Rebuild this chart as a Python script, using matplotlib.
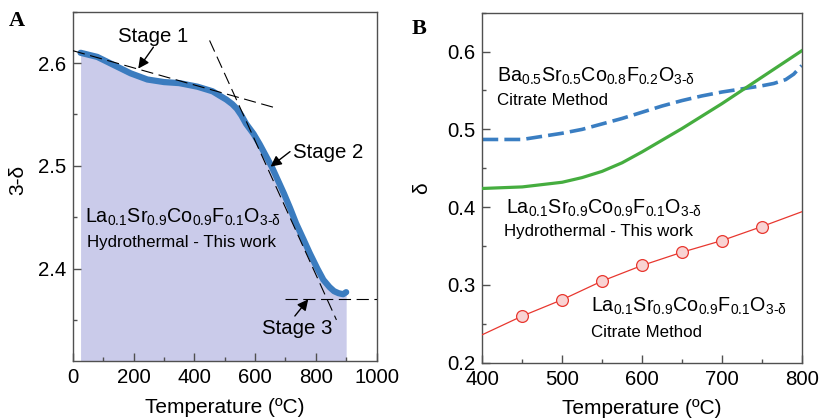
import matplotlib
matplotlib.use("Agg")
import matplotlib.pyplot as plt
from matplotlib.ticker import MultipleLocator

plt.rcParams['font.family'] = ['Liberation Sans', 'DejaVu Sans']
plt.rcParams['mathtext.fontset'] = 'custom'
plt.rcParams['mathtext.rm'] = 'Liberation Sans'
plt.rcParams['mathtext.it'] = 'Liberation Sans:italic'
plt.rcParams['mathtext.bf'] = 'Liberation Sans:bold'
plt.rcParams['mathtext.sf'] = 'Liberation Sans'
plt.rcParams['mathtext.default'] = 'regular'

# ---------------- Panel A data ----------------
tga_temp = [25, 80, 135, 190, 245, 300, 350, 410, 460, 485, 505, 525, 540,
            555, 570, 595, 615, 635, 655, 675, 695, 715, 735, 760, 780, 805,
            825, 845, 860, 875, 890, 900]
tga_val = [2.610, 2.606, 2.598, 2.590, 2.584, 2.5815, 2.5805, 2.577, 2.5725,
           2.568, 2.5645, 2.560, 2.5555, 2.549, 2.541, 2.531, 2.521, 2.510,
           2.499, 2.486, 2.473, 2.459, 2.444, 2.428, 2.415, 2.400, 2.389,
           2.382, 2.378, 2.376, 2.375, 2.377]
tan1_temp = [0, 672]
tan1_val = [2.612, 2.556]
tan2_temp = [450, 868]
tan2_val = [2.622, 2.350]
tan3_temp = [700, 1000]
tan3_val = [2.370, 2.370]
xticks_a = [0, 200, 400, 600, 800, 1000]
yticks_a = [2.4, 2.5, 2.6]

# ---------------- Panel B data ----------------
hyd_temp = [400, 450, 500, 525, 550, 575, 600, 625, 650, 675, 700, 725, 750, 775, 800]
hyd_val = [0.424, 0.426, 0.432, 0.438, 0.446, 0.457, 0.471, 0.486, 0.501,
           0.517, 0.533, 0.550, 0.567, 0.584, 0.601]
bscf_temp = [400, 425, 450, 475, 500, 525, 550, 575, 600, 625, 650, 675,
             700, 725, 750, 765, 780, 790, 800]
bscf_val = [0.487, 0.487, 0.487, 0.491, 0.495, 0.500, 0.507, 0.514, 0.522,
            0.530, 0.537, 0.543, 0.548, 0.552, 0.556, 0.559, 0.564, 0.571, 0.582]
cit_line_temp = [400, 450, 500, 550, 600, 650, 700, 750, 800]
cit_line_val = [0.236, 0.260, 0.281, 0.305, 0.325, 0.342, 0.357, 0.375, 0.394]
cit_pt_temp = [450, 500, 550, 600, 650, 700, 750]
cit_pt_val = [0.260, 0.281, 0.305, 0.325, 0.342, 0.357, 0.375]
xticks_b = [400, 500, 600, 700, 800]
yticks_b = [0.2, 0.3, 0.4, 0.5, 0.6]

LSCF = r'La$_{0.1}$Sr$_{0.9}$Co$_{0.9}$F$_{0.1}$O$_{3\text{-}δ}$'
BSCF = r'Ba$_{0.5}$Sr$_{0.5}$Co$_{0.8}$F$_{0.2}$O$_{3\text{-}δ}$'

fig = plt.figure(figsize=(8.21, 4.19), dpi=100)
axA = fig.add_axes([0.0889, 0.1384, 0.3697, 0.8337])
axB = fig.add_axes([0.5875, 0.1344, 0.3890, 0.8353])

spine_col = '#505050'
for ax in (axA, axB):
    for s in ax.spines.values():
        s.set_color(spine_col)
        s.set_linewidth(1.0)
    ax.tick_params(which='both', direction='in', colors=spine_col,
                   labelcolor='black', labelsize=14.7, top=False, right=False)
    ax.tick_params(which='major', length=5.8, width=1.0, pad=5)
    ax.tick_params(which='minor', length=2.9, width=1.0)

# ---- Panel A ----
axA.set_xlim(0, 1000)
axA.set_ylim(2.31, 2.65)
axA.fill_between(tga_temp, tga_val, 2.31, color='#cacbea', lw=0, zorder=1)
dash_kw = dict(color='black', lw=0.8, dashes=(11, 5), zorder=3)
axA.plot(tan1_temp, tan1_val, **dash_kw)
axA.plot(tan2_temp, tan2_val, **dash_kw)
axA.plot(tan3_temp, tan3_val, **dash_kw)
axA.plot(tga_temp, tga_val, color='#3b7cbf', lw=4.5, solid_capstyle='round',
         solid_joinstyle='round', zorder=2)
axA.set_xticks(xticks_a)
axA.set_yticks(yticks_a)
axA.xaxis.set_minor_locator(MultipleLocator(100))
axA.yaxis.set_minor_locator(MultipleLocator(0.05))

arr = dict(arrowstyle='-|>', color='black', lw=1.0, mutation_scale=16,
           shrinkA=0, shrinkB=0)
axA.text(264, 2.6203, 'Stage 1', fontsize=14.7, ha='center', va='baseline')
axA.annotate('', xy=(215, 2.5946), xytext=(265, 2.6155), arrowprops=arr)
axA.text(841, 2.5074, 'Stage 2', fontsize=14.7, ha='center', va='baseline')
axA.annotate('', xy=(651, 2.4992), xytext=(715, 2.5138), arrowprops=arr)
axA.text(740, 2.3367, 'Stage 3', fontsize=14.7, ha='center', va='baseline')
axA.annotate('', xy=(775, 2.370), xytext=(731, 2.3538), arrowprops=arr)

axA.text(39.5, 2.445, LSCF, fontsize=14.2, ha='left', va='baseline')
axA.text(45, 2.4211, 'Hydrothermal - This work', fontsize=12.2, ha='left', va='baseline')

axA.set_xlabel('Temperature (ºC)', fontsize=15)
axA.xaxis.set_label_coords(0.5, -0.132)
axA.xaxis.label.set_va('center')
fig.text(0.022, 0.57, '3-δ', fontsize=15, rotation=90, ha='center', va='center')
fig.text(0.021, 0.95, 'A', fontsize=16, fontweight='bold',
         family='Liberation Serif', ha='center', va='center')

# ---- Panel B ----
axB.set_xlim(400, 800)
axB.set_ylim(0.2, 0.65)
axB.plot(hyd_temp, hyd_val, color='#45ad3f', lw=2.3, solid_joinstyle='round', zorder=3)
axB.plot(bscf_temp, bscf_val, color='#3a7ec2', lw=2.6, dashes=(4.4, 1.7), zorder=2)
axB.plot(cit_line_temp, cit_line_val, color='#e8372f', lw=0.9, zorder=4)
axB.plot(cit_pt_temp, cit_pt_val, ls='none', marker='o', ms=8.5,
         mfc='#f9d3d3', mec='#e8372f', mew=0.9, zorder=5)
axB.set_xticks(xticks_b)
axB.set_yticks(yticks_b)
axB.xaxis.set_minor_locator(MultipleLocator(50))
axB.yaxis.set_minor_locator(MultipleLocator(0.05))

axB.text(418.8, 0.5614, BSCF, fontsize=14.2, ha='left', va='baseline')
axB.text(418.8, 0.5314, 'Citrate Method', fontsize=12.2, ha='left', va='baseline')
axB.text(429.7, 0.3921, LSCF, fontsize=14.2, ha='left', va='baseline')
axB.text(427.6, 0.3630, 'Hydrothermal - This work', fontsize=12.2, ha='left', va='baseline')
axB.text(536.1, 0.2656, LSCF, fontsize=14.2, ha='left', va='baseline')
axB.text(536.1, 0.2327, 'Citrate Method', fontsize=12.2, ha='left', va='baseline')

axB.set_xlabel('Temperature (ºC)', fontsize=15)
axB.xaxis.set_label_coords(0.5, -0.131)
axB.xaxis.label.set_va('center')
fig.text(0.513, 0.551, 'δ', fontsize=15, rotation=90, ha='center', va='center')
fig.text(0.510, 0.931, 'B', fontsize=16, fontweight='bold',
         family='Liberation Serif', ha='center', va='center')

fig.savefig('out.png', dpi=100)
